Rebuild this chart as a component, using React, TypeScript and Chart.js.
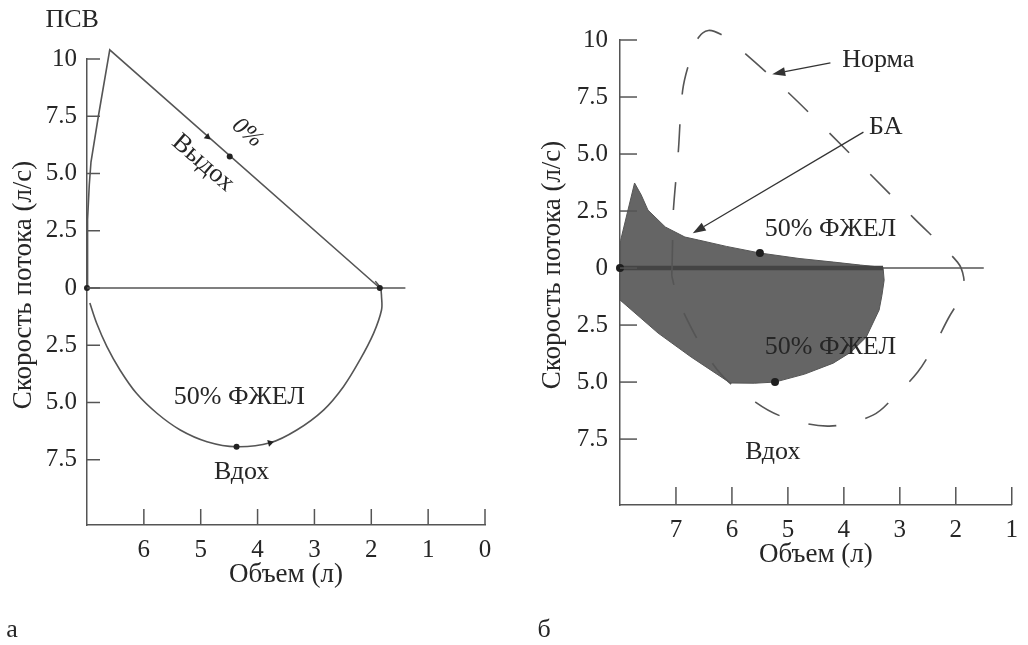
import React, { useEffect, useRef } from "react";
import { Chart, registerables } from "chart.js";

Chart.register(...registerables);

const FONT = '"Liberation Serif", "DejaVu Serif", serif';
const INK = "#262626";
const LINE = "#555555";
const FILL = "#656565";
const LABEL_SIZE = 26;
const TITLE_SIZE = 27;
const TICK_SIZE = 25;

// ---------------- Shared ticks ----------------
const flowTicks = [10, 7.5, 5, 2.5, 0, -2.5, -5, -7.5];

// ---------------- Panel а ----------------
const aVolumeTicks = [6, 5, 4, 3, 2, 1, 0];
const aExpVolume = [7.0, 6.995, 6.985, 6.96, 6.93, 6.8, 6.6, 1.85];
const aExpFlow = [0, 1.5, 3.0, 4.5, 5.5, 7.5, 10.4, 0];
const aInspVolume = [1.93, 1.84, 1.82, 1.82, 1.96, 2.2, 2.49, 2.84, 3.31, 3.78, 4.37, 4.89, 5.36, 5.77, 6.13, 6.42, 6.65, 6.83, 6.95];
const aInspFlow = [0.3, 0.0, -0.38, -0.96, -1.98, -3.14, -4.31, -5.33, -6.2, -6.76, -6.93, -6.71, -6.2, -5.47, -4.6, -3.58, -2.56, -1.54, -0.66];
const aZeroVolume = [7.0, 1.4];
const aZeroFlow = [0, 0];
const aDotVolume = [6.6, 4.49, 4.37, 7.0, 1.85];
const aDotFlow = [10.4, 5.74, -6.93, 0, 0];
const aArrowVolume = [4.88, 3.78];
const aArrowFlow = [6.6, -6.76];
const aArrowAngle = [131, 75];

// ---------------- Panel б ----------------
const bVolumeTicks = [7, 6, 5, 4, 3, 2, 1];
const normVolume = [7.07, 7.06, 7.05, 6.96, 6.88, 6.75, 6.6, 6.42, 6.2, 5.94, 5.1, 4.31, 3.55, 2.75, 1.97, 1.86, 1.88, 2.13, 2.4, 2.68, 3.07, 3.48, 4.26, 5.07, 5.58, 6.26, 6.91, 7.07, 7.07];
const normFlow = [0, 1.2, 2.4, 5.04, 7.8, 9.12, 10.1, 10.42, 10.25, 9.78, 7.94, 6.05, 4.17, 2.19, 0.26, -0.4, -1.1, -2.19, -3.46, -4.56, -5.57, -6.45, -6.93, -6.54, -5.88, -4.47, -1.71, -0.39, 0];
const asthmaVolume = [8.0, 7.99, 7.74, 7.62, 7.5, 7.19, 6.84, 6.6, 6.1, 5.5, 4.8, 4.18, 3.7, 3.3, 3.28, 3.32, 3.37, 3.6, 3.87, 4.19, 4.7, 5.23, 5.6, 6.03, 6.73, 7.32, 8.0, 8.0];
const asthmaFlow = [0, 1.2, 3.73, 3.2, 2.54, 1.8, 1.36, 1.23, 0.95, 0.66, 0.42, 0.26, 0.13, 0.03, -0.53, -1.2, -1.84, -3.03, -3.68, -4.17, -4.65, -5.0, -5.05, -5.04, -3.9, -2.85, -1.4, 0];
const bZeroVolume = [8.0, 1.5];
const bZeroFlow = [0, 0];
const bThickVolume = [8.0, 3.3];
const bThickFlow = [0, 0];
const bDotVolume = [5.5, 5.23, 8.0];
const bDotFlow = [0.66, -5.0, 0];

type Pt = { x: number; y: number };
const pts = (xs: number[], ys: number[]): Pt[] => xs.map((x, i) => ({ x, y: ys[i] }));

type TextMark = { text: string; x: number; y: number; align?: CanvasTextAlign; rotate?: number; size?: number; italic?: boolean };
type ArrowMark = { from: [number, number]; to: [number, number] };

interface PanelSpec {
  xMin: number;
  xMax: number;
  yMin: number;
  xTicks: number[];
  padding: { left: number; right: number; top: number; bottom: number };
  yAxisWidth: number;
  xAxisHeight: number;
  yLabelPad: number;
  xTickLen: number;
  yTickLen: number;
  datasets: any[];
  texts: TextMark[];
  arrows: ArrowMark[];
  yTitleDx: number;
  yTitleY: number;
  xTitleDy: number;
  letter: { text: string; x: number; y: number };
}

const fmtFlow = (v: number) => {
  const a = Math.abs(v);
  if (a === 0) return "0";
  if (a === 10) return "10";
  return a.toFixed(1);
};

const panelA: PanelSpec = {
  xMin: 0,
  xMax: 7,
  yMin: -10.35,
  xTicks: aVolumeTicks,
  padding: { left: 0, right: 29, top: 59, bottom: 0 },
  yAxisWidth: 87,
  xAxisHeight: 120,
  yLabelPad: 10,
  xTickLen: 16,
  yTickLen: 13,
  datasets: [
    {
      data: pts(aDotVolume, aDotFlow),
      showLine: false,
      pointRadius: 3,
      pointBackgroundColor: "#222",
      pointBorderWidth: 0,
      order: 0,
    },
    {
      data: pts(aArrowVolume, aArrowFlow),
      showLine: false,
      pointStyle: "triangle",
      pointRadius: 4,
      rotation: aArrowAngle,
      pointBackgroundColor: "#222",
      pointBorderWidth: 0,
      order: 0,
    },
    {
      data: pts(aExpVolume, aExpFlow),
      showLine: true,
      borderColor: LINE,
      borderWidth: 1.6,
      pointRadius: 0,
      tension: 0,
      order: 2,
    },
    {
      data: pts(aInspVolume, aInspFlow),
      showLine: true,
      borderColor: LINE,
      borderWidth: 1.6,
      pointRadius: 0,
      tension: 0.35,
      order: 2,
    },
    {
      data: pts(aZeroVolume, aZeroFlow),
      showLine: true,
      borderColor: LINE,
      borderWidth: 1.5,
      pointRadius: 0,
      order: 3,
    },
  ],
  texts: [
    { text: "ПСВ", x: 7.26, y: 11.7 },
    { text: "0%", x: 4.18, y: 6.77, rotate: 41, size: 24, italic: true },
    { text: "Выдох", x: 4.96, y: 5.46, rotate: 41 },
    { text: "50% ФЖЕЛ", x: 4.32, y: -4.76 },
    { text: "Вдох", x: 4.28, y: -8.03 },
  ],
  arrows: [],
  yTitleDx: -63,
  yTitleY: 285,
  xTitleDy: 50,
  letter: { text: "а", x: 12, y: 630 },
};

const panelB: PanelSpec = {
  xMin: 1,
  xMax: 8,
  yMin: -10.39,
  xTicks: bVolumeTicks,
  padding: { left: 0, right: 12, top: 40, bottom: 0 },
  yAxisWidth: 106,
  xAxisHeight: 140,
  yLabelPad: 12,
  xTickLen: 18,
  yTickLen: 17,
  datasets: [
    {
      data: pts(bDotVolume, bDotFlow),
      showLine: false,
      pointRadius: 4,
      pointBackgroundColor: "#1e1e1e",
      pointBorderWidth: 0,
      order: 0,
    },
    {
      data: pts(normVolume, normFlow),
      showLine: true,
      borderColor: LINE,
      borderWidth: 1.6,
      borderDash: [28, 30],
      pointRadius: 0,
      tension: 0.35,
      order: 1,
    },
    {
      data: pts(bThickVolume, bThickFlow),
      showLine: true,
      borderColor: "#444",
      borderWidth: 4.5,
      pointRadius: 0,
      order: 2,
    },
    {
      data: pts(asthmaVolume, asthmaFlow),
      showLine: true,
      borderColor: "#555",
      borderWidth: 1,
      backgroundColor: FILL,
      fill: "shape",
      pointRadius: 0,
      tension: 0,
      order: 3,
    },
    {
      data: pts(bZeroVolume, bZeroFlow),
      showLine: true,
      borderColor: LINE,
      borderWidth: 1.5,
      pointRadius: 0,
      order: 4,
    },
  ],
  texts: [
    { text: "Норма", x: 4.03, y: 9.12, align: "left" },
    { text: "БА", x: 3.55, y: 6.18, align: "left" },
    { text: "50% ФЖЕЛ", x: 4.24, y: 1.71 },
    { text: "50% ФЖЕЛ", x: 4.24, y: -3.46 },
    { text: "Вдох", x: 5.27, y: -8.07 },
  ],
  arrows: [
    { from: [4.24, 9.0], to: [5.28, 8.5] },
    { from: [3.65, 5.96], to: [6.7, 1.53] },
  ],
  yTitleDx: -67,
  yTitleY: 265,
  xTitleDy: 50,
  letter: { text: "б", x: 30, y: 630 },
};

function makeOverlay(spec: PanelSpec) {
  return {
    id: "overlay",
    afterDraw(chart: any) {
      const { ctx, chartArea } = chart;
      const xs = chart.scales.x;
      const ys = chart.scales.y;
      ctx.save();
      ctx.strokeStyle = LINE;
      ctx.lineWidth = 1.5;
      // inward tick marks
      for (const t of xs.ticks) {
        const px = xs.getPixelForValue(t.value);
        ctx.beginPath();
        ctx.moveTo(px, chartArea.bottom);
        ctx.lineTo(px, chartArea.bottom - spec.xTickLen);
        ctx.stroke();
      }
      for (const t of ys.ticks) {
        const py = ys.getPixelForValue(t.value);
        ctx.beginPath();
        ctx.moveTo(chartArea.left, py);
        ctx.lineTo(chartArea.left + spec.yTickLen, py);
        ctx.stroke();
      }
      // arrows
      ctx.strokeStyle = "#333";
      ctx.fillStyle = "#333";
      ctx.lineWidth = 1.3;
      for (const a of spec.arrows) {
        const x1 = xs.getPixelForValue(a.from[0]);
        const y1 = ys.getPixelForValue(a.from[1]);
        const x2 = xs.getPixelForValue(a.to[0]);
        const y2 = ys.getPixelForValue(a.to[1]);
        const ang = Math.atan2(y2 - y1, x2 - x1);
        const hl = 13;
        const hw = 4.5;
        const bx = x2 - hl * Math.cos(ang);
        const by = y2 - hl * Math.sin(ang);
        ctx.beginPath();
        ctx.moveTo(x1, y1);
        ctx.lineTo(bx, by);
        ctx.stroke();
        ctx.beginPath();
        ctx.moveTo(x2, y2);
        ctx.lineTo(bx + hw * Math.sin(ang), by - hw * Math.cos(ang));
        ctx.lineTo(bx - hw * Math.sin(ang), by + hw * Math.cos(ang));
        ctx.closePath();
        ctx.fill();
      }
      // annotation texts
      ctx.fillStyle = INK;
      ctx.textBaseline = "middle";
      for (const m of spec.texts) {
        const px = xs.getPixelForValue(m.x);
        const py = ys.getPixelForValue(m.y);
        ctx.save();
        ctx.translate(px, py);
        if (m.rotate) ctx.rotate((m.rotate * Math.PI) / 180);
        ctx.font = `${m.italic ? "italic " : ""}${m.size ?? LABEL_SIZE}px ${FONT}`;
        ctx.textAlign = m.align ?? "center";
        ctx.fillText(m.text, 0, 0);
        ctx.restore();
      }
      // axis titles
      ctx.font = `${TITLE_SIZE}px ${FONT}`;
      ctx.textAlign = "center";
      ctx.fillText("Объем (л)", (chartArea.left + chartArea.right) / 2, chartArea.bottom + spec.xTitleDy);
      ctx.save();
      ctx.translate(chartArea.left + spec.yTitleDx, spec.yTitleY);
      ctx.rotate(-Math.PI / 2);
      ctx.fillText("Скорость потока (л/с)", 0, 0);
      ctx.restore();
      // panel letter
      ctx.font = `${LABEL_SIZE}px ${FONT}`;
      ctx.textAlign = "center";
      ctx.fillText(spec.letter.text, spec.letter.x, spec.letter.y);
      ctx.restore();
    },
  };
}

function buildConfig(spec: PanelSpec): any {
  return {
    type: "scatter",
    data: { datasets: spec.datasets.map((d) => ({ clip: false, ...d })) },
    plugins: [makeOverlay(spec)],
    options: {
      responsive: false,
      animation: false,
      events: [],
      layout: { padding: spec.padding },
      plugins: { legend: { display: false }, tooltip: { enabled: false } },
      scales: {
        x: {
          type: "linear",
          min: spec.xMin,
          max: spec.xMax,
          reverse: true,
          grid: { display: false, drawTicks: false },
          border: { display: true, color: LINE, width: 1.5 },
          ticks: {
            autoSkip: false,
            maxRotation: 0,
            padding: 10,
            color: INK,
            font: { family: FONT, size: TICK_SIZE },
          },
          afterBuildTicks: (axis: any) => {
            axis.ticks = spec.xTicks.map((v) => ({ value: v }));
          },
          afterFit: (axis: any) => {
            axis.height = spec.xAxisHeight;
          },
        },
        y: {
          type: "linear",
          min: spec.yMin,
          max: 10,
          grid: { display: false, drawTicks: false },
          border: { display: true, color: LINE, width: 1.5 },
          ticks: {
            autoSkip: false,
            padding: spec.yLabelPad,
            color: INK,
            font: { family: FONT, size: TICK_SIZE },
            callback: (v: number) => fmtFlow(Number(v)),
          },
          afterBuildTicks: (axis: any) => {
            axis.ticks = flowTicks.map((v) => ({ value: v }));
          },
          afterFit: (axis: any) => {
            axis.width = spec.yAxisWidth;
          },
        },
      },
    },
  };
}

function Panel({ spec, left }: { spec: PanelSpec; left: number }) {
  const ref = useRef<HTMLCanvasElement>(null);
  useEffect(() => {
    const chart = new Chart(ref.current as HTMLCanvasElement, buildConfig(spec));
    return () => chart.destroy();
  }, [spec]);
  return (
    <canvas
      ref={ref}
      width={514}
      height={645}
      style={{ position: "absolute", left, top: 0, width: 514, height: 645 }}
    />
  );
}

export default function App() {
  return (
    <div
      style={{
        position: "fixed",
        left: 0,
        top: 0,
        width: 1028,
        height: 645,
        background: "#ffffff",
        overflow: "hidden",
      }}
    >
      <Panel spec={panelA} left={0} />
      <Panel spec={panelB} left={514} />
    </div>
  );
}
